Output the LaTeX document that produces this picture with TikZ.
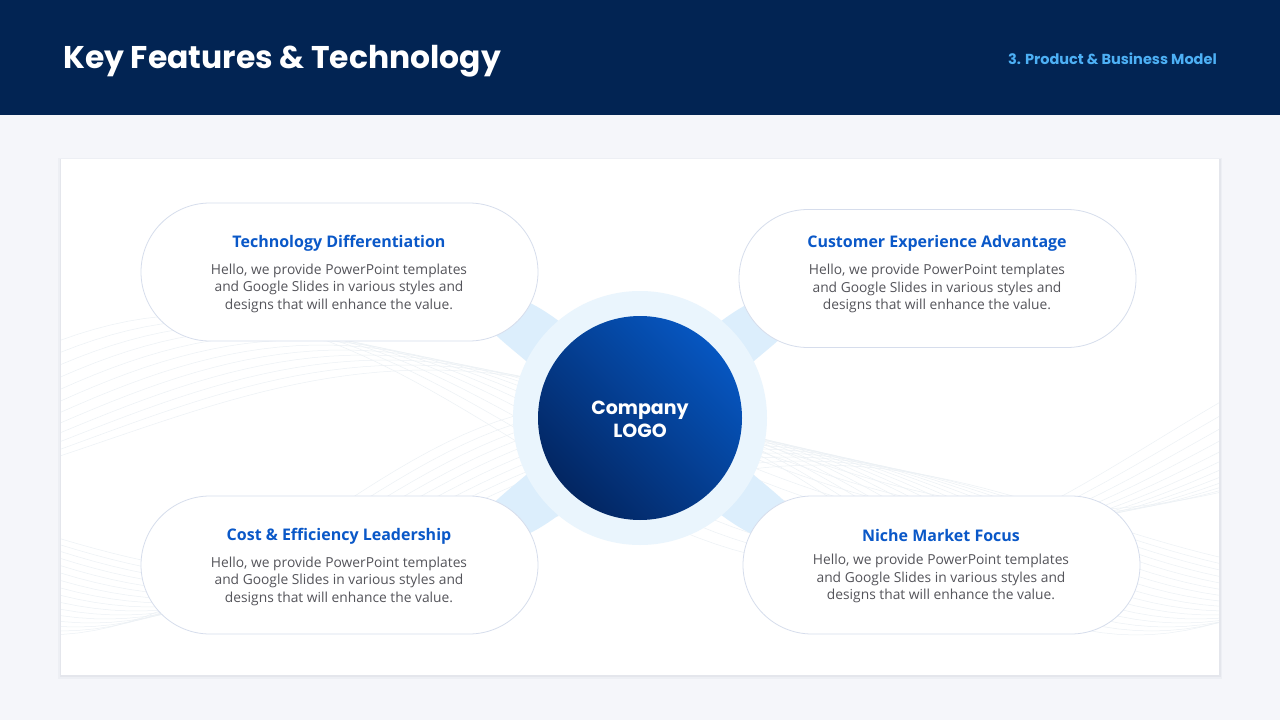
\documentclass[tikz,border=0pt]{standalone}
\usepackage{fontspec}
\setmainfont{Open Sans}
\newfontfamily\poppins{Poppins}
\usetikzlibrary{positioning}
\definecolor{Marine}{RGB}{2,36,83}
\definecolor{CielTexte}{RGB}{77,176,245}
\definecolor{FondPage}{RGB}{245,246,250}
\definecolor{BleuTitre}{RGB}{10,88,200}
\definecolor{GrisTexte}{RGB}{84,84,90}
\definecolor{BordPilule}{RGB}{214,221,236}
\definecolor{Ombre}{RGB}{20,30,60}
\definecolor{Anneau}{RGB}{234,245,253}
\definecolor{Petale}{RGB}{220,238,252}
\definecolor{LogoSombre}{RGB}{3,38,98}
\definecolor{LogoClair}{RGB}{6,86,192}
\definecolor{Onde}{RGB}{236,241,245}
\tikzset{pilule/.style={rectangle, rounded corners=69pt, draw=BordPilule,
  fill=white, line width=0.8pt, minimum width=397pt, minimum height=138pt}}
\tikzset{titrep/.style={font=\fontsize{16}{19}\selectfont\bfseries, text=BleuTitre, inner sep=0pt}}
\tikzset{corps/.style={font=\fontsize{13.8}{17.5}\selectfont, text=GrisTexte,
  align=center, inner sep=0pt}}
\begin{document}
\begin{tikzpicture}[x=1pt, y=-1pt, node distance=9pt]
\useasboundingbox (0,0) rectangle (1280,720);
\fill[FondPage] (0,0) rectangle (1280,720);
% bandeau
\fill[Marine] (0,0) rectangle (1280,115);
\node[anchor=west, text=white, font=\poppins\bfseries\fontsize{31.4}{36}\selectfont, inner sep=0pt]
  (titre) at (63,61) {Key Features \& Technology};
\node[anchor=east, text=CielTexte, font=\poppins\bfseries\fontsize{14.5}{17}\selectfont, inner sep=0pt]
  (section) at (1217,59) {3. Product \& Business Model};
% carte
\fill[Ombre, opacity=0.03] (58,158) rectangle (1222,679);
\fill[Ombre, opacity=0.04] (59.5,159) rectangle (1220.5,677);
\fill[white] (61,159) rectangle (1219,675);
\begin{scope}
\clip (61,159) rectangle (1219,675);
\foreach \i in {0,...,15}
  \draw[Onde, line width=0.5pt] plot[domain=61:1219, samples=70]
    (\x, {520 + (55+4*\i)*sin(\x*0.33 + 5*\i)});
\foreach \i in {0,...,11}
  \draw[Onde, line width=0.5pt] plot[domain=61:1219, samples=70]
    (\x, {440 + (70+5*\i)*sin(\x*0.28 + 150 + 6*\i)});
\end{scope}
% petales et anneau
\fill[Petale] (470,300) .. controls (530,275) and (570,340) .. (640,380)
  .. controls (710,340) and (750,275) .. (810,300)
  .. controls (795,340) and (740,360) .. (700,418)
  .. controls (740,476) and (795,496) .. (810,536)
  .. controls (750,561) and (710,496) .. (640,456)
  .. controls (570,496) and (530,561) .. (470,536)
  .. controls (485,496) and (540,476) .. (580,418)
  .. controls (540,360) and (485,340) .. (470,300) -- cycle;
\fill[Anneau] (640,418) circle (127);
\shade[left color=LogoSombre, right color=LogoClair, shading angle=135]
  (640,418) circle (102);
\node[text=white, align=center, font=\poppins\bfseries\fontsize{19}{23}\selectfont]
  (logo) at (640,419) {Company\\LOGO};
% pilules
\node[pilule] (techno) at (339.5,272) {};
\node[pilule] (client) at (937.5,278.5) {};
\node[pilule] (cout) at (339.5,565) {};
\node[pilule] (niche) at (941.5,565) {};
\foreach \p/\d/\t in {techno/29/Technology Differentiation, client/35/Customer Experience Advantage,
                      cout/29/Cost \& Efficiency Leadership, niche/30/Niche Market Focus} {
  \node[titrep] (\p-t) at ([yshift=\d pt, xshift=-0.5pt]\p.center) {\t};
  \node[corps, below=12.5pt of \p-t] (\p-c)
    {Hello, we provide PowerPoint templates\\and Google Slides in various styles and\\designs that will enhance the value.};
}
\end{tikzpicture}
\end{document}
